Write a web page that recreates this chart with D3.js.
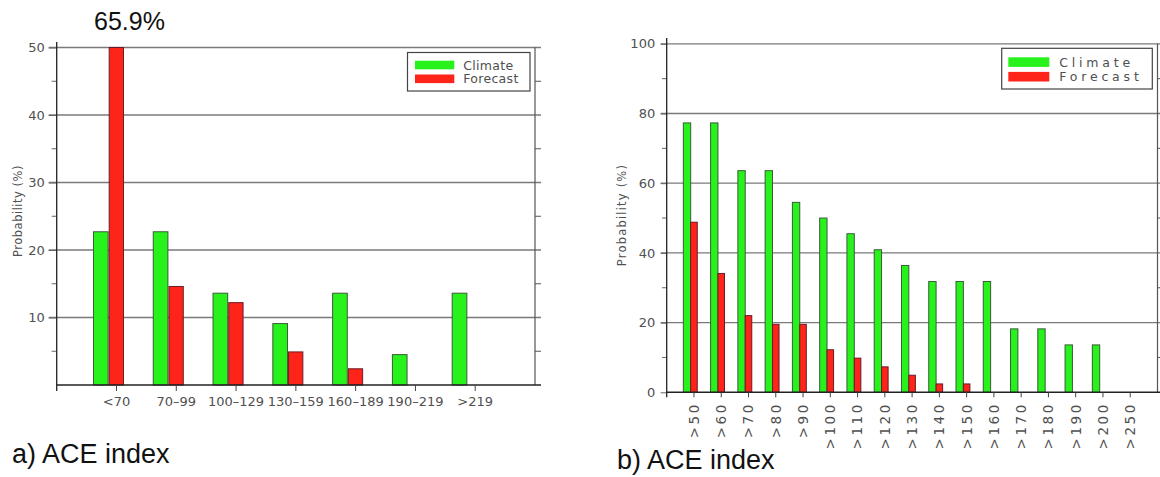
<!DOCTYPE html>
<html><head><meta charset="utf-8">
<script src="https://cdn.jsdelivr.net/npm/d3@7"></script>
<style>
html,body{margin:0;padding:0;background:#fff;}
svg{display:block;}
</style></head>
<body>
<svg id="c" width="1160" height="477"></svg>
<script>
// ---- data ----
const catsA = ["<70", "70–99", "100–129", "130–159", "160–189", "190–219", ">219"];
const climateA = [22.7, 22.7, 13.6, 9.1, 13.6, 4.5, 13.6];
const forecastA = [65.9, 14.6, 12.2, 4.9, 2.4, 0, 0];
const yTicksA = [10, 20, 30, 40, 50];
const yMinorA = [5, 15, 25, 35, 45];

const catsB = [">50", ">60", ">70", ">80", ">90", ">100", ">110", ">120", ">130", ">140", ">150", ">160", ">170", ">180", ">190", ">200", ">250"];
const climateB = [77.3, 77.3, 63.6, 63.6, 54.5, 50.0, 45.5, 40.9, 36.4, 31.8, 31.8, 31.8, 18.2, 18.2, 13.6, 13.6, 0];
const forecastB = [48.8, 34.1, 22.0, 19.5, 19.5, 12.2, 9.8, 7.3, 4.9, 2.4, 2.4, 0, 0, 0, 0, 0, 0];
const yTicksB = [0, 20, 40, 60, 80, 100];
const yMinorB = [10, 30, 50, 70, 90];

const seriesNames = ["Climate", "Forecast"];
const calloutA = "65.9%";

// ---- styles ----
const GREEN = "#27f21c", RED = "#ff2419";
const GREEN_ST = "#3c5a3a", RED_ST = "#6a1a2a";
const GRID = "#7a7a7a", AX = "#222", TXT = "#505050";
const FONT = "DejaVu Sans, sans-serif";

const svg = d3.select("#c");

function panel(o) {
  const g = svg.append("g");
  const x = d3.scaleLinear().domain([0, o.cats.length + 1]).range([o.x0, o.x1]);
  const y = d3.scaleLinear().domain([0, o.ymax]).range([o.y0, o.y1]).clamp(true);

  // gridlines
  g.selectAll(".grid").data(o.yTicks.filter(d => d > 0)).join("line")
    .attr("x1", o.x0 - o.majorLen).attr("x2", o.gridEnd)
    .attr("y1", d => y(d)).attr("y2", d => y(d))
    .attr("stroke", GRID).attr("stroke-width", 1.3);

  // right axis line + minor ticks on the right
  g.append("line").attr("x1", o.x1).attr("x2", o.x1).attr("y1", y(o.ymax)).attr("y2", y(0))
    .attr("stroke", "#555").attr("stroke-width", 1.2);
  g.selectAll(".rmin").data(o.yMinor).join("line")
    .attr("x1", o.x1).attr("x2", o.gridEnd)
    .attr("y1", d => y(d)).attr("y2", d => y(d))
    .attr("stroke", "#555").attr("stroke-width", 1);

  // bars
  const bw = o.bars;
  g.selectAll(".gb").data(o.climate).join("rect")
    .attr("x", (d, i) => x(i + 1 + bw.g0)).attr("width", (d, i) => x(i + 1 + bw.g1) - x(i + 1 + bw.g0))
    .attr("y", d => y(d)).attr("height", d => y(0) - y(d))
    .attr("fill", GREEN).attr("stroke", GREEN_ST).attr("stroke-width", 1);
  g.selectAll(".rb").data(o.forecast).join("rect")
    .attr("x", (d, i) => x(i + 1 + bw.r0)).attr("width", (d, i) => x(i + 1 + bw.r1) - x(i + 1 + bw.r0))
    .attr("y", d => y(d)).attr("height", d => y(0) - y(d))
    .attr("fill", RED).attr("stroke", RED_ST).attr("stroke-width", 1);

  // baseline
  g.append("line").attr("x1", o.x0).attr("x2", o.gridEnd).attr("y1", y(0)).attr("y2", y(0))
    .attr("stroke", AX).attr("stroke-width", 1.5);

  // left axis
  const ya = d3.axisLeft(y).tickValues(o.yTicks.filter(d => d > 0 || o.showZero))
    .tickSize(o.majorLen).tickPadding(o.pad).tickFormat(d3.format("d"));
  const yg = g.append("g").attr("transform", `translate(${o.x0},0)`).call(ya);
  yg.select(".domain").remove();
  yg.selectAll(".tick line").attr("stroke", "#666");
  yg.selectAll("text").attr("fill", TXT).attr("font-family", FONT).attr("font-size", 13);
  g.selectAll(".lmin").data(o.yMinor).join("line")
    .attr("x1", o.x0 - o.minorLen).attr("x2", o.x0)
    .attr("y1", d => y(d)).attr("y2", d => y(d))
    .attr("stroke", "#666").attr("stroke-width", 1);
  g.append("line").attr("x1", o.x0).attr("x2", o.x0).attr("y1", o.axTop).attr("y2", y(0) + o.xTick)
    .attr("stroke", AX).attr("stroke-width", 1.3);

  // x ticks
  g.selectAll(".xt").data(o.cats).join("line")
    .attr("x1", (d, i) => x(i + 1)).attr("x2", (d, i) => x(i + 1))
    .attr("y1", y(0)).attr("y2", y(0) + o.xTick)
    .attr("stroke", "#444").attr("stroke-width", 1);

  // x labels
  if (o.rotate) {
    g.selectAll(".xl").data(o.cats).join("text")
      .attr("transform", (d, i) => `translate(${x(i + 1)},${o.labelY}) rotate(-90)`)
      .attr("text-anchor", "end").attr("dy", "0.36em")
      .attr("font-family", FONT).attr("font-size", 13.5).attr("letter-spacing", 2.6)
      .attr("fill", TXT).text(d => d);
  } else {
    g.selectAll(".xl").data(o.cats).join("text")
      .attr("x", (d, i) => x(i + 1)).attr("y", o.labelY)
      .attr("text-anchor", "middle")
      .attr("font-family", FONT).attr("font-size", 13)
      .attr("fill", TXT).text(d => d);
  }

  // y title
  g.append("text").attr("transform", `translate(${o.ytX},${o.ytY}) rotate(-90)`)
    .attr("text-anchor", "middle").attr("font-family", FONT).attr("font-size", 11.5)
    .attr("letter-spacing", o.ytLs).attr("fill", TXT).text("Probability (%)");

  // legend
  const L = o.legend;
  g.append("rect").attr("x", L.x).attr("y", L.y).attr("width", L.w).attr("height", L.h)
    .attr("fill", "#fff").attr("stroke", "#444").attr("stroke-width", 1.2);
  const colors = [GREEN, RED];
  seriesNames.forEach((s, i) => {
    g.append("rect").attr("x", L.sx).attr("y", L.sy + i * L.step).attr("width", L.sw).attr("height", L.sh)
      .attr("fill", colors[i]);
    g.append("text").attr("x", L.tx).attr("y", L.ty + i * L.step)
      .attr("font-family", FONT).attr("font-size", 12.5).attr("letter-spacing", L.ls)
      .attr("fill", TXT).text(s);
  });
  return {x, y, g};
}

const A = panel({
  cats: catsA, climate: climateA, forecast: forecastA, yTicks: yTicksA, yMinor: yMinorA,
  ymax: 50, x0: 56.7, x1: 535, y0: 385, y1: 47.5, gridEnd: 541, axTop: 42,
  majorLen: 8, minorLen: 5, pad: 4, xTick: 6, showZero: false,
  bars: {g0: -0.385, g1: -0.14, r0: -0.122, r1: 0.117},
  rotate: false, labelY: 406, ytX: 22, ytY: 211, ytLs: 0.5,
  legend: {x: 407.5, y: 52.5, w: 122.5, h: 38.5, sx: 415, sy: 60.7, sw: 39.3, sh: 8.6, step: 13.8, tx: 463.3, ty: 69.5, ls: 0.3}
});
svg.append("text").attr("x", 94).attr("y", 30)
  .attr("font-family", "Liberation Sans, Arial, sans-serif").attr("font-size", 25)
  .attr("fill", "#111").text(calloutA);

const B = panel({
  cats: catsB, climate: climateB, forecast: forecastB, yTicks: yTicksB, yMinor: yMinorB,
  ymax: 100, x0: 666.7, x1: 1157.5, y0: 392.3, y1: 43.8, gridEnd: 1160, axTop: 38,
  majorLen: 6, minorLen: 4.7, pad: 5.5, xTick: 5, showZero: true,
  bars: {g0: -0.39, g1: -0.12, r0: -0.12, r1: 0.12},
  rotate: true, labelY: 402, ytX: 626, ytY: 215, ytLs: 1.2,
  legend: {x: 1001.7, y: 48.3, w: 150.6, h: 40.7, sx: 1008.3, sy: 57.3, sw: 41, sh: 9.6, step: 14.6, tx: 1059.3, ty: 66.5, ls: 3.8}
});

svg.append("text").attr("x", 12).attr("y", 463)
  .attr("font-family", "Liberation Sans, Arial, sans-serif").attr("font-size", 27)
  .attr("fill", "#111").text("a) ACE index");
svg.append("text").attr("x", 617).attr("y", 469)
  .attr("font-family", "Liberation Sans, Arial, sans-serif").attr("font-size", 27)
  .attr("fill", "#111").text("b) ACE index");
</script>
</body></html>
